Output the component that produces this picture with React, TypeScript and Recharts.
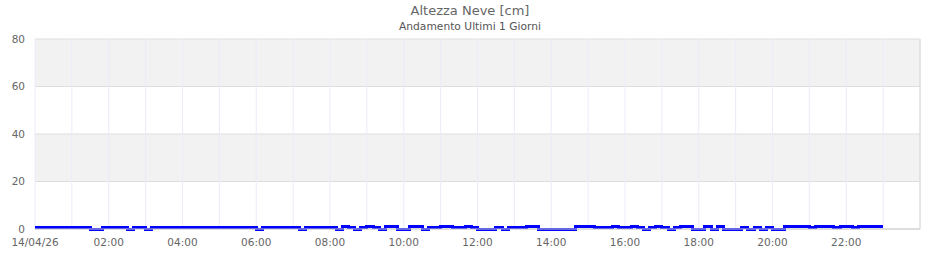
import React from "react";
import {
  LineChart,
  Line,
  XAxis,
  YAxis,
  CartesianGrid,
  ReferenceLine,
} from "recharts";

// Snow depth (cm), one sample every 10 minutes from 00:00 to 23:00
const snowCm: number[] = [
  // 00
  0.5, 0.5, 0.5, 0.5, 0.5, 0.5,
  // 01
  0.5, 0.5, 0.5, 0, 0, 0.5,
  // 02
  0.5, 0.5, 0.5, 0, 0.5, 0.5,
  // 03
  0, 0.5, 0.5, 0.5, 0.5, 0.5,
  // 04
  0.5, 0.5, 0.5, 0.5, 0.5, 0.5,
  // 05
  0.5, 0.5, 0.5, 0.5, 0.5, 0.5,
  // 06
  0, 0.5, 0.5, 0.5, 0.5, 0.5,
  // 07
  0.5, 0, 0.5, 0.5, 0.5, 0.5,
  // 08
  0.5, 0, 0.9, 0.5, 0, 0.5,
  // 09
  0.9, 0.5, 0, 0.9, 0.9, 0,
  // 10
  0, 0.9, 0.9, 0, 0.5, 0.5,
  // 11
  0.9, 0.9, 0.5, 0.5, 0.9, 0.5,
  // 12
  0, 0, 0, 0.5, 0, 0.5,
  // 13
  0.5, 0.5, 0.9, 0.9, 0, 0,
  // 14
  0, 0, 0, 0, 0.9, 0.9,
  // 15
  0.9, 0.5, 0.5, 0.5, 0.9, 0.5,
  // 16
  0.5, 0.9, 0.5, 0, 0.5, 0.9,
  // 17
  0.5, 0, 0.5, 0.9, 0.9, 0,
  // 18
  0, 0.9, 0, 0.9, 0, 0,
  // 19
  0, 0.5, 0, 0.5, 0, 0.5,
  // 20
  0, 0, 0.9, 0.9, 0.9, 0.9,
  // 21
  0.5, 0.9, 0.9, 0.9, 0.5, 0.9,
  // 22
  0.9, 0.5, 0.9, 0.9, 0.9, 0.9,
  // 23
  0.9,
];

const sampleMinutes = 10;

const gridHours: number[] = [
  0, 1, 2, 3, 4, 5, 6, 7, 8, 9, 10, 11, 12, 13, 14, 15, 16, 17, 18, 19, 20,
  21, 22, 23, 24,
];
const labelHours: number[] = [0, 2, 4, 6, 8, 10, 12, 14, 16, 18, 20, 22];
const xTickLabels: string[] = [
  "14/04/26",
  "02:00",
  "04:00",
  "06:00",
  "08:00",
  "10:00",
  "12:00",
  "14:00",
  "16:00",
  "18:00",
  "20:00",
  "22:00",
];
const yTicks: number[] = [0, 20, 40, 60, 80];

const title = "Altezza Neve [cm]";
const subtitle = "Andamento Ultimi 1 Giorni";

const data = snowCm.map((v, i) => ({
  t: (i * sampleMinutes) / 60,
  v,
}));

const fmtX = (h: number) => {
  const idx = labelHours.indexOf(h);
  return idx >= 0 ? xTickLabels[idx] : "";
};

const FONT = "'DejaVu Sans', sans-serif";

export default function App() {
  return (
    <div
      style={{
        position: "absolute",
        left: 0,
        top: 0,
        width: 940,
        height: 260,
        background: "#fff",
        fontFamily: FONT,
      }}
    >
      <div
        style={{
          position: "absolute",
          left: 0,
          top: 3,
          width: 940,
          textAlign: "center",
          fontSize: 13,
          lineHeight: "16px",
          color: "#666",
        }}
      >
        {title}
      </div>
      <div
        style={{
          position: "absolute",
          left: 0,
          top: 20,
          width: 940,
          textAlign: "center",
          fontSize: 10.7,
          lineHeight: "14px",
          color: "#555",
        }}
      >
        {subtitle}
      </div>
      <div style={{ position: "absolute", left: 0, top: 0 }}>
        <LineChart
          width={940}
          height={260}
          data={data}
          margin={{ top: 39, right: 20, left: 0, bottom: 0 }}
        >
          <CartesianGrid
            vertical={false}
            stroke="#dddddd"
            horizontalFill={["#f2f2f2", "#ffffff"]}
            fillOpacity={1}
          />
          <CartesianGrid horizontal={false} stroke="#ebebfa" />
          <XAxis
            dataKey="t"
            type="number"
            domain={[0, 24]}
            ticks={gridHours}
            interval={0}
            tickFormatter={fmtX}
            tickLine={false}
            axisLine={{ stroke: "#cccccc" }}
            tick={{ fill: "#666", fontSize: 10.5, fontFamily: FONT }}
            tickMargin={4}
            height={31}
          />
          <YAxis
            type="number"
            domain={[0, 80]}
            ticks={yTicks}
            interval={0}
            tickLine={false}
            axisLine={false}
            tick={{ fill: "#666", fontSize: 10.5, fontFamily: FONT }}
            tickMargin={4}
            width={35}
          />
          <ReferenceLine x={24} stroke="#d6d6d6" />
          <Line
            type="stepAfter"
            dataKey="v"
            stroke="#0000ff"
            strokeWidth={3}
            dot={false}
            shapeRendering="crispEdges"
            isAnimationActive={false}
          />
        </LineChart>
      </div>
    </div>
  );
}
